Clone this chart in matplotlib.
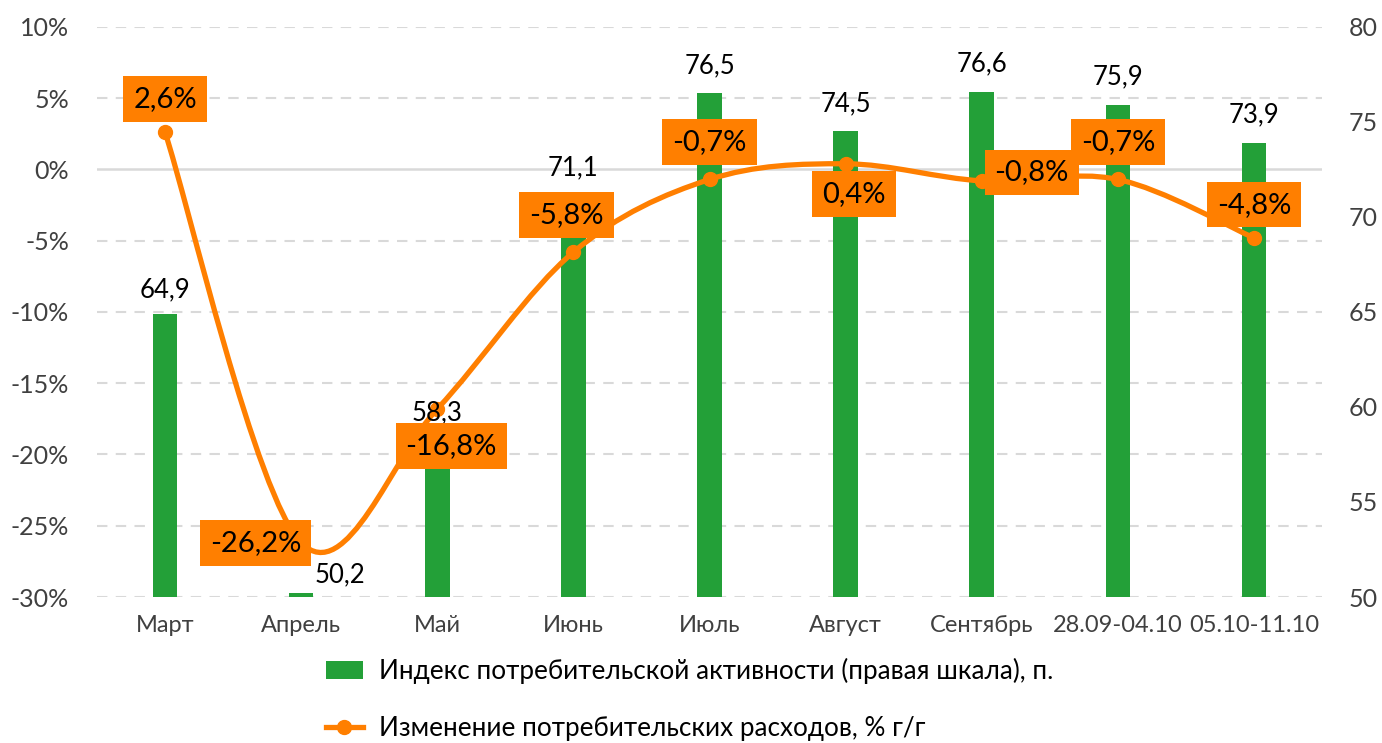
import matplotlib
matplotlib.use('Agg')
from matplotlib import pyplot as plt
from matplotlib.path import Path
from matplotlib.patches import PathPatch, Patch
from matplotlib.lines import Line2D
import numpy as np

CATEGORIES = ['Март', 'Апрель', 'Май', 'Июнь', 'Июль', 'Август', 'Сентябрь',
              '28.09-04.10', '05.10-11.10']
ACTIVITY = [64.9, 50.2, 58.3, 71.1, 76.5, 74.5, 76.6, 75.9, 73.9]
SPENDING = [2.6, -26.2, -16.8, -5.8, -0.7, 0.4, -0.8, -0.7, -4.8]

BAR_LABEL = 'Индекс потребительской активности (правая шкала), п.'
LINE_LABEL = 'Изменение потребительских расходов, % г/г'

GREEN = '#23A038'
ORANGE = '#FF7F00'
GRID = '#D9D9D9'
TICK = '#404040'

# label offsets in points (placement like in the original chart)
LINE_OFFSETS = [(0, 24), (-33, 0), (10, -27), (-5, 27), (0, 27),
                (6, -22), (36, 6), (0, 27), (0, 24)]
BAR_OFFSETS = [(0, 17), (28, 13), (0, 19), (0, 20), (0, 20),
               (0, 20), (0, 20), (0, 20), (0, 20)]


def fmt(v):
    return f'{v:.1f}'.replace('.', ',')


def smooth_path(x, y):
    # Excel-like smoothed line: Catmull-Rom turned into cubic Bezier pieces
    pts = np.column_stack([x, y]).astype(float)
    n = len(pts)
    verts = [pts[0]]
    codes = [Path.MOVETO]
    for i in range(n - 1):
        p0 = pts[max(i - 1, 0)]
        p1 = pts[i]
        p2 = pts[i + 1]
        p3 = pts[min(i + 2, n - 1)]
        c1 = p1 + (p2 - p0) / 6
        c2 = p2 - (p3 - p1) / 6
        verts += [c1, c2, p2]
        codes += [Path.CURVE4] * 3
    return Path(verts, codes)


def main():
    plt.rcParams['font.family'] = ['Lato', 'Noto Sans', 'DejaVu Sans']
    fig = plt.figure(figsize=(13.82, 7.43), dpi=100)
    ax_line = fig.add_axes([0.0702, 0.1965, 0.8864, 0.7672])
    ax_bar = ax_line.twinx()

    x = np.arange(len(CATEGORIES))

    ax_line.set_ylim(-30, 10)
    ax_line.set_yticks(np.arange(-30, 11, 5))
    ax_line.set_yticklabels([f'{v}%' for v in range(-30, 11, 5)])
    ax_line.set_xlim(-0.5, len(CATEGORIES) - 0.5)
    ax_bar.set_ylim(50, 80)
    ax_bar.set_yticks(np.arange(50, 81, 5))

    for v in range(-30, 11, 5):
        if v == 0:
            ax_line.axhline(v, color=GRID, lw=1.8, zorder=0)
        else:
            ax_line.axhline(v, color=GRID, lw=1.5, ls=(0, (5, 4)), zorder=0)

    ax_bar.bar(x, [a - 50 for a in ACTIVITY], bottom=50, width=0.18,
               color=GREEN, zorder=2)

    # line drawn on the bar axes with the left-scale transform, so it sits above bars
    tr = ax_line.transData
    ax_bar.add_patch(PathPatch(smooth_path(x, SPENDING), fill=False,
                               edgecolor=ORANGE, lw=3.8, transform=tr,
                               zorder=3, capstyle='round'))
    ax_bar.plot(x, SPENDING, 'o', color=ORANGE, ms=10, transform=tr, zorder=4)

    for xi, v, off in zip(x, ACTIVITY, BAR_OFFSETS):
        ax_bar.annotate(fmt(v), (xi, v), xytext=off, textcoords='offset points',
                        ha='center', va='center', fontsize=18.5, color='black',
                        zorder=5)

    for xi, v, off in zip(x, SPENDING, LINE_OFFSETS):
        ax_bar.annotate(fmt(v) + '%', (xi, v), xycoords=tr, xytext=off,
                        textcoords='offset points', ha='center', va='center',
                        fontsize=21, color='black', zorder=6,
                        bbox=dict(boxstyle='square,pad=0.34', fc=ORANGE, ec='none'))

    for a in (ax_line, ax_bar):
        for s in a.spines.values():
            s.set_visible(False)
        a.tick_params(length=0, colors=TICK)
    ax_line.tick_params(axis='y', labelsize=18, pad=20)
    ax_bar.tick_params(axis='y', labelsize=18, pad=19)
    ax_line.set_xticks(x)
    ax_line.set_xticklabels(CATEGORIES)
    ax_line.tick_params(axis='x', labelsize=17, pad=13)

    handles = [Patch(facecolor=GREEN, edgecolor='none'),
               Line2D([0], [0], color=ORANGE, lw=3.8, marker='o', ms=10)]
    fig.legend(handles, [BAR_LABEL, LINE_LABEL], loc='upper left',
               bbox_to_anchor=(0.228, 0.128), frameon=False, fontsize=18.8,
               labelspacing=1.2, handlelength=1.45, handletextpad=0.6,
               labelcolor='black', borderaxespad=0)

    fig.savefig('out.png', dpi=100)


if __name__ == '__main__':
    main()
